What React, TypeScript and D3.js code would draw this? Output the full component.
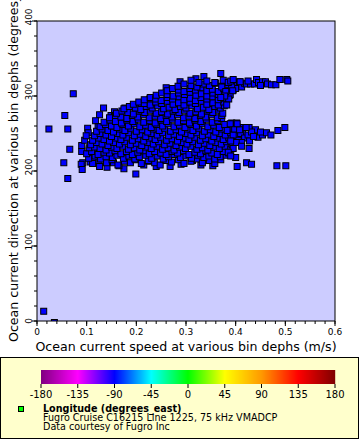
import React from 'react';
import * as d3 from 'd3';

// speed (m/s), direction (degrees)
const outliers: [number, number][] = [
  [.0135, 13], [.035, -2], [.073, 303], [.056, 274], [.024, 256], [.062, 256], [.066, 229],
  [.054, 211], [.062, 190], [.09, 234], [.09, 226], [.092, 211], [.089, 209], [.091, 202],
  [.126, 206], [.199, 196], [.175, 203], [.134, 284], [.177, 284], [.126, 275], [.118, 267],
  [.149, 274], [.156, 279], [.209, 290], [.227, 296], [.26, 311], [.288, 319], [.32, 323],
  [.336, 326], [.37, 330], [.102, 257], [.103, 251], [.123, 259], [.107, 212], [.113, 218],
  [.105, 228], [.114, 224], [.154, 211], [.165, 207], [.215, 208], [.225, 213], [.354, 207],
  [.346, 214], [.313, 214], [.284, 222], [.262, 222], [.311, 214], [.29, 209], [.24, 206],
  [.096, 241], [.099, 247], [.141, 205], [.268, 206], [.33, 208],
];

const core: [number, number][] = [
  [.112, 210], [.125, 214], [.14, 211], [.151, 215], [.163, 208], [.176, 213], [.188, 211], [.199, 215], [.21, 210], [.224, 214], [.237, 211], [.248, 208], [.26, 214], [.271, 212], [.285, 215], [.296, 210], [.31, 213], [.322, 216], [.333, 211], [.347, 214], [.358, 210], [.37, 215],
  [.104, 217], [.117, 220], [.128, 216], [.139, 219], [.152, 218], [.161, 221], [.174, 217], [.185, 220], [.197, 216], [.206, 219], [.219, 221], [.231, 217], [.242, 220], [.254, 216], [.265, 219], [.276, 222], [.289, 218], [.3, 220], [.311, 217], [.324, 221], [.336, 218], [.346, 220], [.358, 216], [.369, 219], [.381, 221],
  [.1, 223], [.11, 226], [.123, 222], [.135, 225], [.146, 224], [.157, 227], [.169, 223], [.18, 226], [.192, 222], [.203, 225], [.215, 227], [.226, 223], [.237, 226], [.249, 224], [.26, 222], [.272, 226], [.283, 224], [.295, 227], [.306, 222], [.318, 225], [.329, 223], [.34, 227], [.352, 224], [.363, 222], [.375, 226], [.386, 224],
  [.105, 231], [.116, 232], [.127, 230], [.139, 228], [.15, 232], [.161, 230], [.173, 233], [.184, 229], [.196, 231], [.207, 228], [.219, 232], [.23, 230], [.242, 233], [.253, 229], [.264, 231], [.276, 228], [.287, 232], [.299, 230], [.31, 233], [.322, 229], [.333, 231], [.344, 228], [.356, 232], [.367, 230], [.379, 233], [.39, 229],
  [.108, 235], [.12, 238], [.131, 236], [.143, 234], [.154, 238], [.166, 236], [.177, 239], [.188, 235], [.2, 237], [.211, 234], [.223, 238], [.234, 236], [.245, 239], [.257, 235], [.268, 237], [.28, 234], [.291, 238], [.302, 236], [.314, 239], [.325, 235], [.337, 237], [.348, 234], [.36, 238], [.371, 236], [.382, 239], [.393, 235],
  [.112, 241], [.124, 244], [.135, 242], [.146, 240], [.158, 244], [.169, 242], [.181, 245], [.192, 241], [.204, 243], [.215, 240], [.226, 244], [.238, 242], [.249, 245], [.261, 241], [.272, 243], [.283, 240], [.295, 244], [.306, 242], [.318, 245], [.329, 241], [.34, 243], [.352, 240], [.363, 244], [.375, 242], [.386, 245], [.398, 241], [.409, 244],
  [.116, 247], [.127, 250], [.139, 248], [.15, 246], [.162, 250], [.173, 248], [.185, 251], [.196, 247], [.208, 249], [.219, 246], [.23, 250], [.242, 248], [.253, 251], [.265, 247], [.276, 249], [.287, 246], [.299, 250], [.31, 248], [.322, 251], [.333, 247], [.345, 249], [.356, 246], [.368, 250], [.379, 248], [.39, 251], [.402, 247], [.414, 250],
  [.12, 253], [.131, 256], [.143, 254], [.154, 252], [.166, 256], [.177, 254], [.189, 257], [.2, 253], [.212, 255], [.223, 252], [.234, 256], [.246, 254], [.257, 257], [.269, 253], [.28, 255], [.291, 252], [.303, 256], [.314, 254], [.326, 257], [.337, 253], [.349, 255], [.36, 252], [.372, 256], [.383, 254], [.395, 257],
  [.127, 259], [.138, 262], [.15, 260], [.161, 258], [.173, 262], [.184, 260], [.196, 263], [.207, 259], [.219, 261], [.23, 258], [.241, 262], [.253, 260], [.264, 263], [.276, 259], [.287, 261], [.298, 258], [.31, 262], [.321, 260], [.333, 263], [.344, 259], [.356, 261], [.367, 258], [.378, 262],
  [.135, 265], [.147, 268], [.158, 266], [.17, 264], [.181, 268], [.193, 266], [.204, 269], [.215, 265], [.227, 267], [.238, 264], [.25, 268], [.261, 266], [.273, 269], [.284, 265], [.295, 267], [.307, 264], [.318, 268], [.33, 266], [.341, 269], [.353, 265], [.364, 267], [.372, 270],
  [.146, 271], [.158, 274], [.169, 272], [.181, 270], [.192, 274], [.203, 272], [.215, 275], [.226, 271], [.238, 273], [.249, 270], [.26, 274], [.272, 272], [.283, 275], [.295, 271], [.306, 273], [.318, 270], [.329, 274], [.34, 272], [.352, 275], [.363, 271], [.372, 274],
  [.16, 277], [.171, 280], [.183, 278], [.194, 276], [.206, 280], [.217, 278], [.228, 281], [.24, 277], [.251, 279], [.263, 276], [.274, 280], [.286, 278], [.297, 281], [.308, 277], [.32, 279], [.331, 276], [.343, 280], [.354, 278], [.366, 281], [.374, 277],
  [.175, 283], [.186, 286], [.198, 284], [.209, 282], [.22, 286], [.232, 284], [.243, 287], [.255, 283], [.266, 285], [.278, 282], [.289, 286], [.3, 284], [.312, 287], [.323, 283], [.335, 285], [.346, 282], [.358, 286], [.369, 284], [.377, 287],
  [.194, 289], [.205, 292], [.216, 290], [.228, 288], [.239, 292], [.251, 290], [.262, 293], [.274, 289], [.285, 291], [.296, 288], [.308, 292], [.319, 290], [.331, 293], [.342, 289], [.354, 291], [.365, 288], [.376, 292],
  [.216, 295], [.228, 298], [.239, 296], [.25, 294], [.262, 298], [.273, 296], [.285, 299], [.296, 295], [.308, 297], [.319, 294], [.33, 298], [.342, 296], [.353, 299], [.365, 295], [.376, 297],
  [.24, 301], [.251, 304], [.262, 302], [.274, 300], [.285, 304], [.297, 302], [.308, 305], [.32, 301], [.331, 303], [.342, 300], [.354, 304], [.365, 302], [.377, 305], [.388, 301],
  [.262, 307], [.273, 310], [.285, 308], [.296, 306], [.308, 310], [.319, 308], [.33, 311], [.342, 307], [.353, 309], [.365, 306], [.376, 310], [.388, 308], [.398, 311],
  [.284, 313], [.296, 316], [.31, 314], [.322, 312], [.335, 316], [.347, 314], [.36, 317], [.372, 313], [.384, 315],
  [.31, 321], [.326, 318], [.342, 320], [.358, 318], [.375, 321],
];

const upperBranch: [number, number][] = [
  [.385, 303], [.389, 302], [.395, 308], [.4, 315], [.408, 319], [.412, 312], [.418, 317], [.422, 316],
  [.43, 316], [.438, 316], [.442, 322], [.446, 318], [.454, 319], [.46, 319], [.464, 316], [.472, 315],
  [.481, 315], [.489, 322], [.503, 322], [.505, 320], [.4, 310], [.392, 314], [.385, 318], [.425, 320],
  [.45, 314], [.372, 312], [.38, 306], [.386, 296], [.378, 300], [.39, 320], [.395, 322], [.37, 298],
  [.394, 307], [.409, 319], [.382, 288],
];

const lowerBranch: [number, number][] = [
  [.392, 264], [.402, 264], [.415, 258], [.421, 258], [.427, 258], [.44, 255], [.445, 245], [.454, 248],
  [.462, 251], [.471, 248], [.485, 254], [.499, 258], [.41, 250], [.418, 244], [.425, 248], [.432, 252],
  [.405, 241], [.395, 248], [.412, 238], [.401, 238], [.428, 240], [.436, 246], [.45, 252], [.398, 256],
  [.408, 255], [.39, 240], [.395, 230], [.427, 230], [.412, 233], [.4, 218], [.403, 206], [.422, 211],
  [.432, 209], [.483, 207], [.501, 207], [.385, 225], [.39, 220], [.389, 263], [.403, 263], [.421, 258],
];

const xTicks = [0, 0.1, 0.2, 0.3, 0.4, 0.5, 0.6];
const yTicks = [0, 100, 200, 300, 400];
const cbTicks = [-180, -135, -90, -45, 0, 45, 90, 135, 180];
const cbColors = ['#800080', '#ff00ff', '#0000ff', '#00ffff', '#00ff00', '#ffff00', '#ff9900', '#ff0000', '#800000'];

const font = '"DejaVu Sans", sans-serif';

export default function App() {
  const x = d3.scaleLinear().domain([0, 0.6]).range([37, 335]);
  const y = d3.scaleLinear().domain([0, 400]).range([321, 21]);
  const cb = d3.scaleLinear().domain([-180, 180]).range([41, 335]);
  const cbColor = d3.scaleLinear<string>().domain(cbTicks).range(cbColors);

  const points = [...outliers, ...core, ...upperBranch, ...lowerBranch];
  const xMinor = x.ticks(30);
  const yMinor = y.ticks(20);
  const cbSteps = d3.range(41, 335, 1);

  return (
    <svg width={360} height={440} style={{ position: 'absolute', left: 0, top: 0, background: '#fff' }} fontFamily={font}>
      <defs>
        <clipPath id="plot">
          <rect x={37} y={21} width={298} height={300} />
        </clipPath>
      </defs>
      <rect x={37} y={21} width={298} height={300} fill="#ccccff" />
      <g clipPath="url(#plot)">
        {points.map((p, i) => (
          <rect key={i} x={x(p[0]) - 3} y={y(p[1]) - 3} width={6} height={6} fill="#0000ff" stroke="#000" strokeWidth={1} />
        ))}
      </g>
      <rect x={37} y={21} width={298} height={300} fill="none" stroke="#000" strokeWidth={1} />

      {/* x axis */}
      {xMinor.map(t => (
        <line key={'xm' + t} x1={x(t)} x2={x(t)} y1={321} y2={324} stroke="#000" />
      ))}
      {xTicks.map(t => (
        <g key={'x' + t}>
          <line x1={x(t)} x2={x(t)} y1={321} y2={326} stroke="#000" />
          <text x={x(t)} y={335} fontSize={9} textAnchor="middle">{t === 0 ? '0' : t.toFixed(1)}</text>
        </g>
      ))}
      <text x={186} y={351} fontSize={12.6} textAnchor="middle">Ocean current speed at various bin dephs (m/s)</text>

      {/* y axis */}
      {yMinor.map(t => (
        <line key={'ym' + t} x1={34} x2={37} y1={y(t)} y2={y(t)} stroke="#000" />
      ))}
      {yTicks.map(t => (
        <g key={'y' + t}>
          <line x1={32} x2={37} y1={y(t)} y2={y(t)} stroke="#000" />
          <text transform={`translate(32,${y(t) - (t === 0 ? 0 : 4)}) rotate(-90)`} fontSize={9} textAnchor="middle">{t}</text>
        </g>
      ))}
      <text transform="translate(18,342) rotate(-90)" fontSize={12.6}>Ocean current direction at various bin dephs (degrees_true)</text>

      {/* legend */}
      <rect x={0.5} y={357.5} width={358} height={81} fill="#ffffcc" stroke="#000" />
      {cbSteps.map(px => (
        <rect key={'cb' + px} x={px} y={370} width={1.2} height={14} fill={cbColor(cb.invert(px + 0.5))} />
      ))}
      {cbTicks.map(t => (
        <g key={'cb' + t}>
          <line x1={cb(t)} x2={cb(t)} y1={384} y2={388} stroke="#000" />
          <text x={cb(t)} y={398} fontSize={10} textAnchor="middle">{t}</text>
        </g>
      ))}
      <rect x={18.5} y={406.5} width={5} height={5} fill="#00ff00" stroke="#000" />
      <text x={43} y={411.5} fontSize={9.6} fontWeight="bold">Longitude (degrees_east)</text>
      <text x={43} y={421} fontSize={9.6}>Fugro Cruise C16215 Line 1225, 75 kHz VMADCP</text>
      <text x={43} y={429.5} fontSize={9.6}>Data courtesy of Fugro Inc</text>
    </svg>
  );
}
